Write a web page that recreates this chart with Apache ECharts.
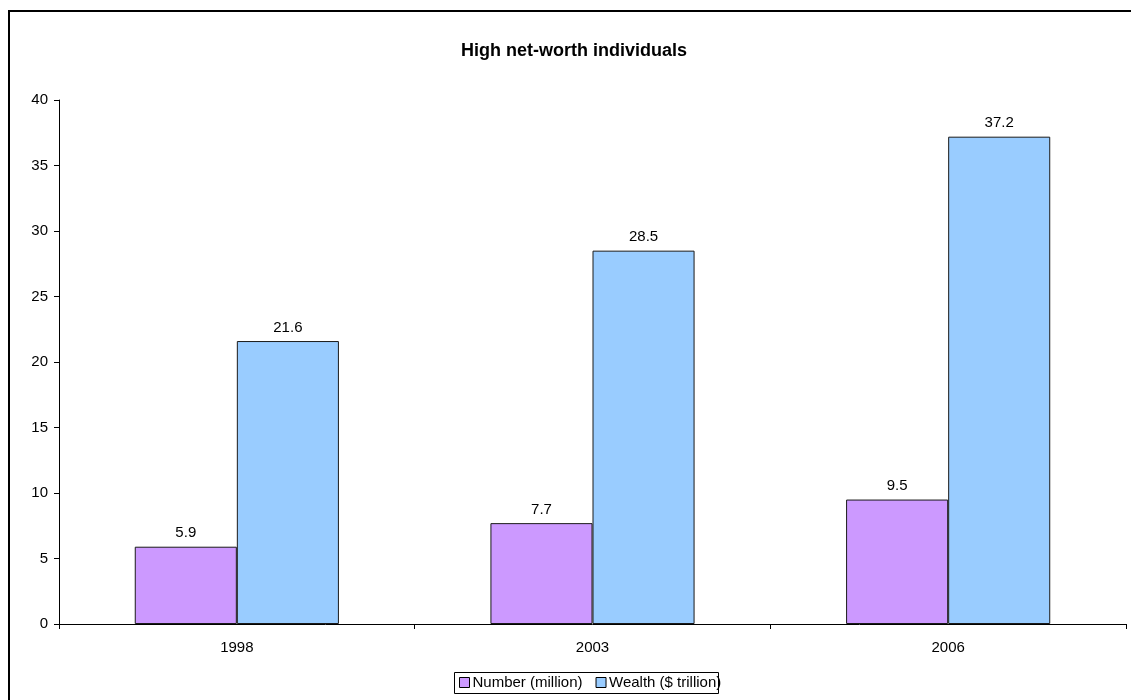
<!DOCTYPE html>
<html>
<head>
<meta charset="utf-8">
<style>
  html, body { margin: 0; padding: 0; background: #ffffff; }
  #chart { width: 1131px; height: 700px; }
</style>
<script src="https://cdn.jsdelivr.net/npm/echarts@6/dist/echarts.min.js"></script>
</head>
<body>
<div id="chart"></div>
<script>
// Chart data
const years = ['1998', '2003', '2006'];
const numberMillion = [5.9, 7.7, 9.5];
const wealthTrillion = [21.6, 28.5, 37.2];
const seriesNames = ['Number (million)', 'Wealth ($ trillion)'];

const FONT = '"Liberation Sans", Arial, sans-serif';

const chart = echarts.init(document.getElementById('chart'), null, { renderer: 'canvas' });

const labelStyle = {
  show: true,
  position: 'top',
  distance: 6,
  color: '#000',
  fontFamily: FONT,
  fontSize: 15
};

chart.setOption({
  backgroundColor: '#ffffff',
  animation: false,
  title: {
    text: 'High net-worth individuals',
    left: 569,
    top: 37,
    textAlign: 'center',
    textStyle: { fontFamily: FONT, fontSize: 18, fontWeight: 'bold', color: '#000' }
  },
  graphic: [{
    // outer chart frame
    type: 'rect',
    shape: { x: 9, y: 11, width: 1300, height: 900 },
    style: { fill: 'none', stroke: '#000', lineWidth: 2 },
    silent: true,
    z: 100
  }, {
    // legend frame
    type: 'rect',
    shape: { x: 454.5, y: 672.5, width: 264, height: 21 },
    style: { fill: 'none', stroke: '#000', lineWidth: 1 },
    silent: true,
    z: 100
  }],
  legend: {
    data: seriesNames,
    left: 459,
    top: 675,
    itemWidth: 10,
    itemHeight: 10,
    itemGap: 13,
    icon: 'rect',
    padding: 0,
    textStyle: { fontFamily: FONT, fontSize: 15, color: '#000', padding: [0, 0, 0, -2] },
    itemStyle: { borderColor: '#000', borderWidth: 1 }
  },
  grid: { left: 59, right: 5, top: 100, bottom: 76, containLabel: false },
  xAxis: {
    type: 'category',
    data: years,
    axisLine: { lineStyle: { color: '#000', width: 1 } },
    axisTick: { show: true, alignWithLabel: false, length: 5, inside: false, lineStyle: { color: '#000' } },
    axisLabel: { color: '#000', fontFamily: FONT, fontSize: 15, margin: 16 },
    splitLine: { show: false }
  },
  yAxis: {
    type: 'value',
    min: 0,
    max: 40,
    interval: 5,
    axisLine: { show: true, lineStyle: { color: '#000', width: 1 } },
    axisTick: { show: true, length: 5, lineStyle: { color: '#000' } },
    axisLabel: { color: '#000', fontFamily: FONT, fontSize: 15, margin: 11 },
    splitLine: { show: false }
  },
  series: [{
    name: seriesNames[0],
    type: 'bar',
    data: numberMillion,
    barGap: '0%',
    barCategoryGap: '42.6%',
    itemStyle: { color: '#CC99FF', borderColor: '#1a1a1a', borderWidth: 1 },
    label: labelStyle
  }, {
    name: seriesNames[1],
    type: 'bar',
    data: wealthTrillion,
    itemStyle: { color: '#99CCFF', borderColor: '#1a1a1a', borderWidth: 1 },
    label: labelStyle
  }]
});
</script>
</body>
</html>
